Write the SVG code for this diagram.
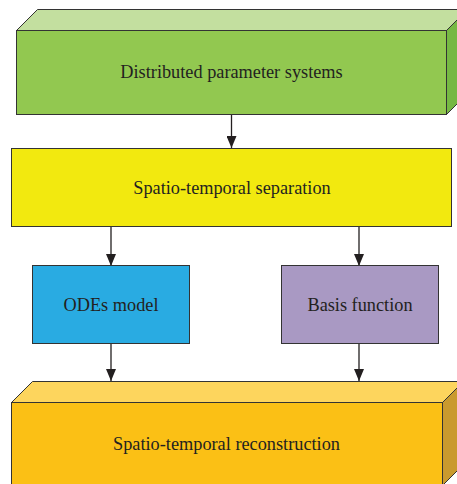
<svg xmlns="http://www.w3.org/2000/svg" width="457" height="484" viewBox="0 0 457 484">
<style>
.s{stroke:#333;stroke-width:1;stroke-linejoin:miter}
.t{font-family:"Liberation Serif","Times New Roman",serif;font-size:18.3px;fill:#231f20;text-anchor:middle}
.c{stroke:#231f20;stroke-width:1.3;fill:none}
</style>
<defs>
<marker id="ah" viewBox="0 0 12 10" refX="12" refY="5" markerWidth="12" markerHeight="10" markerUnits="userSpaceOnUse" orient="auto">
<path d="M0,0 L12,5 L0,10 Z" fill="#231f20"/>
</marker>
</defs>
<g id="connectors">
<line class="c" x1="231.5" y1="114" x2="231.5" y2="148" marker-end="url(#ah)"/>
<line class="c" x1="111" y1="227" x2="111" y2="266" marker-end="url(#ah)"/>
<line class="c" x1="359" y1="227" x2="359" y2="266" marker-end="url(#ah)"/>
<line class="c" x1="111" y1="344" x2="111" y2="381" marker-end="url(#ah)"/>
<line class="c" x1="359" y1="344" x2="359" y2="381" marker-end="url(#ah)"/>
</g>
<g id="dps">
<polygon class="s" points="16.5,30.5 37.5,9.5 467.5,9.5 446.5,30.5" fill="#c3df9f"/>
<polygon class="s" points="446.5,30.5 467.5,9.5 467.5,93.5 446.5,114.5" fill="#76b843"/>
<rect class="s" x="16.5" y="30.5" width="430" height="84" fill="#92c850"/>
<text class="t" x="231.5" y="78">Distributed parameter systems</text>
</g>
<g id="sep">
<rect class="s" x="11.5" y="148.5" width="440" height="78" fill="#f2e90f"/>
<text class="t" x="232" y="194">Spatio-temporal separation</text>
</g>
<g id="odes">
<rect class="s" x="32.5" y="265.5" width="157" height="78" fill="#29abe2"/>
<text class="t" x="111" y="311">ODEs model</text>
</g>
<g id="basis">
<rect class="s" x="281.5" y="265.5" width="157" height="78" fill="#a999c3"/>
<text class="t" x="360" y="311">Basis function</text>
</g>
<g id="recon">
<polygon class="s" points="11.5,402.5 32.5,381.5 463.5,381.5 442.5,402.5" fill="#fdd55d"/>
<polygon class="s" points="442.5,402.5 463.5,381.5 463.5,464.5 442.5,485.5" fill="#c99a2e"/>
<rect class="s" x="11.5" y="402.5" width="431" height="83" fill="#fbc015"/>
<text class="t" x="226.5" y="450">Spatio-temporal reconstruction</text>
</g>
</svg>
